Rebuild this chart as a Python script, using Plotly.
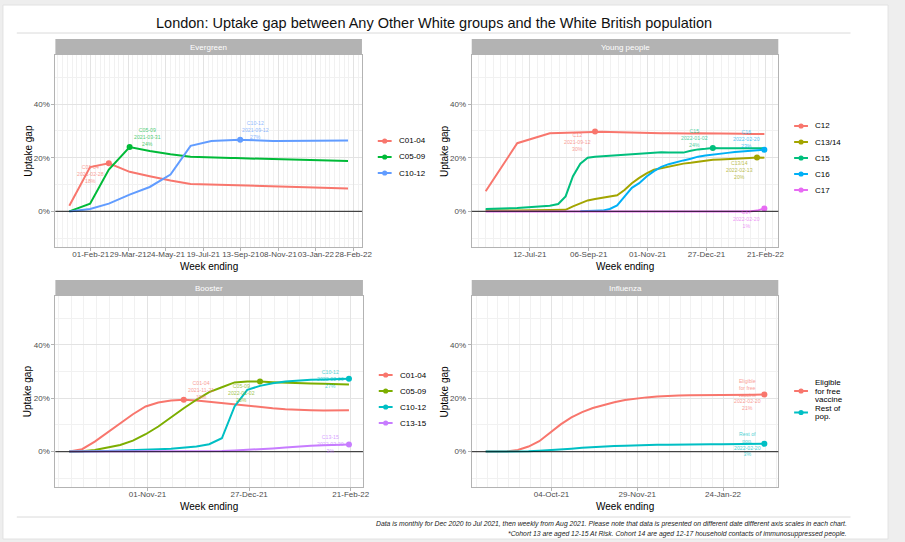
import textwrap
import pandas as pd
import plotly.graph_objects as go

W, H = 905, 542
FONT = "Liberation Sans, Arial, Helvetica, sans-serif"

# ---------------------------------------------------------------- dates
MONTH_END_DATES = ["2020-12-31", "2021-01-31", "2021-02-28", "2021-03-31",
                   "2021-04-30", "2021-05-31", "2021-06-30", "2021-07-31"]
WEEKLY_DATES = [d.strftime("%Y-%m-%d")
                for d in pd.date_range("2021-08-08", "2022-02-20", freq="7D")]

EVERGREEN_DATES = MONTH_END_DATES + WEEKLY_DATES
YOUNG_DATES = MONTH_END_DATES[5:] + WEEKLY_DATES
BOOSTER_DATES = [d for d in WEEKLY_DATES if d >= "2021-09-19"]
FLU_DATES = [d for d in WEEKLY_DATES if d >= "2021-08-22"]

# ---------------------------------------------------------------- Evergreen (uptake gap, %)
EVERGREEN_GROUPS = ["C01-04", "C05-09", "C10-12"]
EVERGREEN_C01_04 = [2.1, 16.5, 17.9, 14.75, 13.1, 11.5, 10.25, 10.0,
                    9.9, 9.9, 9.8, 9.8, 9.7, 9.7, 9.6, 9.6, 9.5, 9.5, 9.4, 9.4, 9.4,
                    9.3, 9.3, 9.2, 9.2, 9.1, 9.1, 9.0, 9.0, 8.9, 8.9, 8.8, 8.8, 8.7,
                    8.6, 8.6, 8.5]
EVERGREEN_C05_09 = [0.0, 2.9, 15.6, 24.0, 22.5, 21.25, 20.4, 20.0,
                    20.0, 19.95, 19.9, 19.9, 19.85, 19.8, 19.8, 19.75, 19.7, 19.7,
                    19.65, 19.6, 19.55, 19.5, 19.5, 19.45, 19.4, 19.35, 19.3, 19.25,
                    19.2, 19.1, 19.05, 19.0, 18.95, 18.9, 18.85, 18.8, 18.75]
EVERGREEN_C10_12 = [0.0, 0.9, 2.9, 6.25, 9.1, 13.75, 24.4, 26.25,
                    26.3, 26.4, 26.45, 26.5, 26.6, 26.65, 26.6, 26.5, 26.4, 26.35,
                    26.3, 26.3, 26.25, 26.2, 26.2, 26.2, 26.2, 26.25, 26.3, 26.3,
                    26.3, 26.35, 26.35, 26.4, 26.4, 26.4, 26.4, 26.4, 26.4]

# ---------------------------------------------------------------- Young people
YOUNG_GROUPS = ["C12", "C13/14", "C15", "C16", "C17"]
YOUNG_C12 = [7.5, 25.4, 29.1,
             29.2, 29.3, 29.4, 29.5, 29.6, 29.8, 29.7, 29.6, 29.5, 29.4, 29.3,
             29.3, 29.2, 29.2, 29.1, 29.1, 29.0, 29.0, 29.0, 29.1, 29.1, 29.1,
             29.0, 29.0, 28.9, 28.9, 28.8, 28.8, 28.8]
YOUNG_C13_14 = [0.4, 0.3, 0.5,
                0.5, 0.6, 1.9, 3.1, 4.1, 4.6, 5.0, 5.4, 6.0, 8.0, 10.5, 12.5,
                14.2, 15.5, 16.1, 16.5, 17.3, 17.8, 18.1, 18.5, 18.8, 19.2, 19.3,
                19.4, 19.6, 19.7, 19.9, 20.1, 20.0]
YOUNG_C15 = [0.9, 1.25, 2.1,
             2.75, 5.6, 13.1, 17.75, 20.0, 20.4, 20.6, 20.75, 21.0, 21.2, 21.3,
             21.5, 21.6, 21.8, 22.0, 21.9, 21.8, 21.9, 22.6, 23.1, 23.3, 23.6,
             23.5, 23.5, 23.5, 23.5, 23.5, 23.5, 23.5]
YOUNG_C16 = [None, None, None,
             None, None, None, 0.1, 0.2, 0.2, 0.3, 0.9, 2.2, 5.5, 8.8, 10.5,
             13.0, 15.0, 16.6, 17.6, 18.4, 19.0, 19.6, 20.4, 20.8, 21.2, 21.5,
             21.8, 22.1, 22.3, 22.5, 22.7, 23.0]
YOUNG_C17 = [0.0, 0.0, 0.0,
             0.0, 0.0, 0.0, 0.0, 0.0, 0.0, 0.0, 0.0, 0.0, 0.0, 0.0, 0.0,
             0.0, 0.0, 0.0, 0.0, 0.0, 0.0, 0.0, 0.0, 0.0, 0.0, 0.0,
             0.0, 0.0, 0.0, 0.0, 0.3, 1.1]

# ---------------------------------------------------------------- Booster
BOOSTER_GROUPS = ["C01-04", "C05-09", "C10-12", "C13-15"]
BOOSTER_C01_04 = [0.0, 0.9, 3.75, 7.1, 10.4, 14.0, 16.9, 18.4, 19.1, 19.4, 19.1,
                  18.6, 18.0, 17.5, 17.1, 16.6, 16.25, 15.9, 15.6, 15.5, 15.4,
                  15.4, 15.5]
BOOSTER_C05_09 = [0.0, 0.1, 0.6, 1.5, 2.5, 4.1, 6.5, 9.4, 12.9, 16.25, 19.4,
                  22.25, 24.1, 25.9, 26.2, 26.25, 26.0, 25.75, 25.6, 25.5, 25.4,
                  25.25, 25.1]
BOOSTER_C10_12 = [0.0, 0.0, 0.1, 0.25, 0.4, 0.5, 0.6, 0.9, 1.1, 1.4, 1.9,
                  2.75, 5.0, 16.9, 23.1, 24.6, 25.6, 26.25, 26.6, 26.9, 27.0,
                  27.1, 27.25]
BOOSTER_C13_15 = [0.0, 0.0, 0.0, 0.0, 0.0, 0.0, 0.0, 0.0, 0.0, 0.0, 0.0,
                  0.0, 0.2, 0.4, 0.6, 0.9, 1.2, 1.5, 1.9, 2.2, 2.4, 2.6, 2.7]

# ---------------------------------------------------------------- Influenza
FLU_GROUPS = ["Eligible for free vaccine", "Rest of pop."]
FLU_ELIGIBLE = [0.0, 0.0, 0.1, 0.6, 1.9, 3.9, 7.0, 10.2, 12.8, 14.8, 16.3,
                17.5, 18.5, 19.3, 19.9, 20.3, 20.6, 20.9, 21.0, 21.1, 21.1,
                21.15, 21.2, 21.2, 21.2, 21.3, 21.4]
FLU_REST = [0.0, 0.0, 0.0, 0.05, 0.1, 0.3, 0.5, 0.8, 1.1, 1.4, 1.7, 1.9,
            2.1, 2.2, 2.4, 2.5, 2.6, 2.6, 2.7, 2.7, 2.7, 2.75, 2.8, 2.8, 2.8,
            2.85, 2.9]

# ---------------------------------------------------------------- axis breaks
EVERGREEN_TICKS = ["2021-02-01", "2021-03-29", "2021-05-24", "2021-07-19",
                   "2021-09-13", "2021-11-08", "2022-01-03", "2022-02-28"]
YOUNG_TICKS = ["2021-07-12", "2021-09-06", "2021-11-01", "2021-12-27", "2022-02-21"]
BOOSTER_TICKS = ["2021-11-01", "2021-12-27", "2022-02-21"]
FLU_TICKS = ["2021-10-04", "2021-11-29", "2022-01-24"]

HUE3 = ["#F8766D", "#00BA38", "#619CFF"]
HUE5 = ["#F8766D", "#A3A500", "#00BF7D", "#00B0F6", "#E76BF3"]
HUE4 = ["#F8766D", "#7CAE00", "#00BFC4", "#C77CFF"]
HUE2 = ["#F8766D", "#00BFC4"]

TITLE = "London: Uptake gap between Any Other White groups and the White British population"
FOOTNOTES = [
    "Data is monthly for Dec 2020 to Jul 2021, then weekly from Aug 2021. "
    "Please note that data is presented on different date different axis scales in each chart.",
    "*Cohort 13 are aged 12-15 At Risk. Cohort 14 are aged 12-17 household contacts "
    "of immunosuppressed people.",
]

# panel layout: plot box in pixels (left, top, right, bottom),
# legend item centres (px) and label offsets (px) for the peak labels
PANELS = [
    dict(title="Evergreen", dates=EVERGREEN_DATES, groups=EVERGREEN_GROUPS,
         series=[EVERGREEN_C01_04, EVERGREEN_C05_09, EVERGREEN_C10_12],
         colors=HUE3, ticks=EVERGREEN_TICKS, box=(56, 55, 366, 247),
         legend_y=[141, 157, 173],
         shifts=[(-18, -11), (18, 10), (15, 10)]),
    dict(title="Young people", dates=YOUNG_DATES, groups=YOUNG_GROUPS,
         series=[YOUNG_C12, YOUNG_C13_14, YOUNG_C15, YOUNG_C16, YOUNG_C17],
         colors=HUE5, ticks=YOUNG_TICKS, box=(477, 55, 787, 247),
         legend_y=[126, 142, 158, 174, 190],
         shifts=[(-18, -11), (-18, -13), (-18, 10), (-18, 11), (-18, -11)]),
    dict(title="Booster", dates=BOOSTER_DATES, groups=BOOSTER_GROUPS,
         series=[BOOSTER_C01_04, BOOSTER_C05_09, BOOSTER_C10_12, BOOSTER_C13_15],
         colors=HUE4, ticks=BOOSTER_TICKS, box=(56, 296, 367, 487),
         legend_y=[375, 391, 407, 423],
         shifts=[(17, 10), (-19, -12), (-18, 0), (-18, 0)]),
    dict(title="Influenza", dates=FLU_DATES, groups=FLU_GROUPS,
         series=[FLU_ELIGIBLE, FLU_REST],
         colors=HUE2, ticks=FLU_TICKS, box=(477, 296, 787, 487),
         legend_y=[391, 412.5],
         shifts=[(-17, 0), (-17, 0)]),
]

STRIP_H = 16
Y_RANGE = [-0.1325, 0.5825]
GRID_MAJOR = "#E3E3E3"
GRID_MINOR = "#F1F1F1"
BORDER = "#B3B3B3"


def px_x(x):
    return x / W


def px_y(y):
    return 1 - y / H


def wrap(name):
    return textwrap.wrap(name, 8)


fig = go.Figure()
shapes, annotations = [], []

# page frame, rule under the title and above the notes
shapes.append(dict(type="rect", xref="paper", yref="paper", layer="below",
                   x0=px_x(3), x1=px_x(898), y0=px_y(539), y1=px_y(5),
                   fillcolor="white", line=dict(color="#E2E2E2", width=1)))
for yline in (33, 517):
    shapes.append(dict(type="line", xref="paper", yref="paper",
                       x0=px_x(17), x1=px_x(860), y0=px_y(yline), y1=px_y(yline),
                       line=dict(color="#DADADA", width=1)))

annotations.append(dict(text=TITLE, xref="paper", yref="paper", x=px_x(439), y=px_y(23),
                        showarrow=False, xanchor="center", yanchor="middle",
                        font=dict(family=FONT, size=14.5, color="#111111")))
for k, note in enumerate(FOOTNOTES):
    annotations.append(dict(text=f"<i>{note}</i>", xref="paper", yref="paper",
                            x=px_x(858), y=px_y(524 + 9.5 * k), showarrow=False,
                            xanchor="right", yanchor="middle",
                            font=dict(family=FONT, size=6.8, color="#222222")))

layout_axes = {}
for i, p in enumerate(PANELS):
    sfx = "" if i == 0 else str(i + 1)
    xref, yref = "x" + sfx, "y" + sfx
    x0, y0, x1, y1 = p["box"]

    dates = pd.to_datetime(p["dates"])
    pad = (dates.max() - dates.min()) * 0.05
    xr = [(dates.min() - pad).strftime("%Y-%m-%d %H:%M"),
          (dates.max() + pad).strftime("%Y-%m-%d %H:%M")]

    layout_axes["xaxis" + sfx] = dict(
        domain=[px_x(x0), px_x(x1)], anchor=yref, type="date", range=xr,
        tickmode="array", tickvals=p["ticks"], tickformat="%d-%b-%y", tickangle=0,
        tickfont=dict(family=FONT, size=8, color="#4D4D4D"),
        ticks="outside", ticklen=3, tickcolor=BORDER, tickwidth=1,
        ticklabelstandoff=-4,
        showgrid=True, gridcolor=GRID_MAJOR, gridwidth=1,
        minor=dict(dtick=7 * 86400000, tick0="2021-02-01", showgrid=True,
                   gridcolor=GRID_MINOR, gridwidth=1, ticks=""),
        showline=True, mirror=True, linecolor=BORDER, linewidth=1,
        zeroline=False, fixedrange=True)
    layout_axes["yaxis" + sfx] = dict(
        domain=[px_y(y1), px_y(y0)], anchor=xref, range=Y_RANGE,
        tick0=0, dtick=0.2, tickformat=".0%",
        tickfont=dict(family=FONT, size=8, color="#4D4D4D"),
        ticks="outside", ticklen=3, tickcolor=BORDER, tickwidth=1,
        showgrid=True, gridcolor=GRID_MAJOR, gridwidth=1,
        minor=dict(dtick=0.1, tick0=0, showgrid=True, gridcolor=GRID_MINOR,
                   gridwidth=1, ticks=""),
        showline=True, mirror=True, linecolor=BORDER, linewidth=1,
        zeroline=False, fixedrange=True)

    # series lines and their peak markers / labels
    for name, vals, color, (dx, dy) in zip(p["groups"], p["series"], p["colors"], p["shifts"]):
        frac = [None if v is None else v / 100 for v in vals]
        fig.add_trace(go.Scatter(x=p["dates"], y=frac, mode="lines", name=name,
                                 line=dict(color=color, width=2), xaxis=xref, yaxis=yref,
                                 showlegend=False, hoverinfo="skip"))
        present = [(d, v) for d, v in zip(p["dates"], vals) if v is not None]
        peak_date, peak_val = max(present, key=lambda dv: dv[1])
        fig.add_trace(go.Scatter(x=[peak_date], y=[peak_val / 100], mode="markers",
                                 marker=dict(color=color, size=6), xaxis=xref, yaxis=yref,
                                 showlegend=False, hoverinfo="skip"))
        label = "<br>".join(wrap(name) + [peak_date, f"{peak_val:.0f}%"])
        annotations.append(dict(text=label, x=peak_date, y=peak_val / 100,
                                xref=xref, yref=yref, showarrow=False,
                                xanchor="center", yanchor="middle", xshift=dx, yshift=dy,
                                opacity=0.7, font=dict(family=FONT, size=5.2, color=color)))

    # zero reference line
    shapes.append(dict(type="line", xref=f"{xref} domain", yref=yref, x0=0, x1=1,
                       y0=0, y1=0, layer="above", opacity=0.7,
                       line=dict(color="black", width=1.2)))

    # facet strip
    shapes.append(dict(type="rect", xref="paper", yref="paper", layer="below",
                       x0=px_x(x0), x1=px_x(x1), y0=px_y(y0), y1=px_y(y0 - STRIP_H),
                       fillcolor="#B3B3B3", line=dict(width=0)))
    annotations.append(dict(text=p["title"], xref="paper", yref="paper",
                            x=px_x((x0 + x1) / 2), y=px_y(y0 - STRIP_H / 2),
                            showarrow=False, xanchor="center", yanchor="middle",
                            font=dict(family=FONT, size=8, color="white")))

    # axis titles
    annotations.append(dict(text="Week ending", xref="paper", yref="paper",
                            x=px_x((x0 + x1) / 2), y=px_y(y1 + 19), showarrow=False,
                            xanchor="center", yanchor="middle",
                            font=dict(family=FONT, size=10, color="black")))
    annotations.append(dict(text="Uptake gap", xref="paper", yref="paper",
                            x=px_x(x0 - 28), y=px_y((y0 + y1) / 2), showarrow=False,
                            textangle=-90, xanchor="center", yanchor="middle",
                            font=dict(family=FONT, size=10, color="black")))

    # legend keys
    key_cx, text_x = x1 + 23, x1 + 35.5
    for name, color, cy in zip(p["groups"], p["colors"], p["legend_y"]):
        shapes.append(dict(type="line", xref="paper", yref="paper",
                           x0=px_x(key_cx - 7), x1=px_x(key_cx + 7), y0=px_y(cy), y1=px_y(cy),
                           line=dict(color=color, width=2)))
        shapes.append(dict(type="circle", xref="paper", yref="paper",
                           x0=px_x(key_cx - 2.6), x1=px_x(key_cx + 2.6),
                           y0=px_y(cy + 2.6), y1=px_y(cy - 2.6),
                           fillcolor=color, line=dict(width=0)))
        lines = wrap(name) if len(name) > 8 else [name]
        for j, ln in enumerate(lines):
            ly = cy + (j - (len(lines) - 1) / 2) * 8.3
            annotations.append(dict(text=ln, xref="paper", yref="paper",
                                    x=px_x(text_x), y=px_y(ly), showarrow=False,
                                    xanchor="left", yanchor="middle",
                                    font=dict(family=FONT, size=8, color="black")))

fig.update_layout(
    width=W, height=H, autosize=False,
    margin=dict(l=0, r=0, t=0, b=0),
    paper_bgcolor="#EEEEEE", plot_bgcolor="white",
    font=dict(family=FONT),
    showlegend=False,
    shapes=shapes, annotations=annotations,
    **layout_axes,
)

fig.write_html("out.html")
